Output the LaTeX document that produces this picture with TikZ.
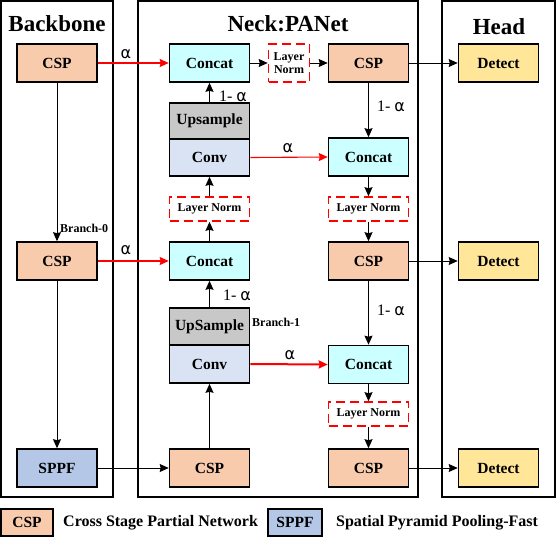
\documentclass[tikz,border=0pt]{standalone}
\usepackage{fontspec}
\setmainfont{Liberation Serif}
\newfontfamily\alphafont{DejaVu Sans}
\usepackage{xcolor}
\usetikzlibrary{arrows.meta, positioning, calc}

\definecolor{cspfill}{HTML}{F8CBAD}
\definecolor{concatfill}{HTML}{CCFFFF}
\definecolor{upfill}{HTML}{C8C8C8}
\definecolor{convfill}{HTML}{DAE3F3}
\definecolor{sppffill}{HTML}{B4C7E7}
\definecolor{detfill}{HTML}{FFE699}

\newcommand{\alp}{{\alphafont α}}

\begin{document}
\begin{tikzpicture}[
    x=1pt, y=-1pt,
    % Node styles
    box/.style={rectangle, draw=black, line width=1.6pt, minimum width=80pt, minimum height=38pt, inner sep=0pt, text centered, font=\fontsize{15.5}{15.5}\selectfont\bfseries},
    halfbox/.style={box, minimum height=37pt},
    normbox/.style={rectangle, draw=red, line width=1.6pt, dash pattern=on 9pt off 5pt, fill=white, minimum width=80pt, minimum height=24pt, inner sep=0pt, text centered, align=center, font=\fontsize{12}{12}\selectfont\bfseries},
    panel/.style={rectangle, draw=black, line width=1.6pt},
    titletext/.style={font=\fontsize{23}{23}\selectfont\bfseries},
    smalltext/.style={font=\fontsize{12}{12}\selectfont\bfseries, anchor=west, inner sep=0pt},
    weighttext/.style={font=\fontsize{16}{16}\selectfont, inner sep=0pt},
    legendtext/.style={font=\fontsize{16}{16}\selectfont\bfseries, anchor=west, inner sep=0pt},
    arrow/.style={-{Stealth[length=9pt, width=8pt, inset=1pt]}, line width=1pt},
    redarrow/.style={arrow, draw=red, line width=1.5pt},
    thinred/.style={arrow, draw=red, line width=1.1pt},
    thickred/.style={arrow, draw=red, line width=2pt}
]
\useasboundingbox (0,0) rectangle (556,536);

% Panels
\draw[panel] (1,1) rectangle (113,497);
\draw[panel] (138,1) rectangle (418,497);
\draw[panel] (442,1) rectangle (555,497);

\node[titletext] (ttlbb) at (57,24) {Backbone};
\node[titletext] (ttlneck) at (288,24) {Neck:PANet};
\node[titletext] (ttlhead) at (499,27) {Head};

% BACKBONE
\node[box, fill=cspfill] (bbcsp1) at (57,63) {CSP};
\node[box, fill=cspfill] (bbcsp2) at (57,261) {CSP};
\node[box, fill=sppffill] (sppf) at (57,468) {SPPF};

% NECK: top-down path
\node[box, fill=concatfill] (concat1) at (209.5,63) {Concat};
\node[normbox, minimum width=41pt, minimum height=38pt] (ln1) at (289,63) {Layer\\[1pt]Norm};
\node[box, fill=cspfill] (ncsp1) at (368.5,63) {CSP};
\node[box, fill=upfill, minimum height=36pt] (upsample1) at (209.5,121) {Upsample};
\node[halfbox, fill=convfill] (conv1) at (209.5,157.5) {Conv};
\node[normbox] (lnl) at (209.5,209) {Layer Norm};
\node[box, fill=concatfill] (concat3) at (209.5,261) {Concat};
\node[halfbox, fill=upfill] (upsample2) at (209.5,326.5) {UpSample};
\node[box, fill=convfill] (conv2) at (209.5,364) {Conv};
\node[box, fill=cspfill] (ncsp3) at (209.5,468) {CSP};

% NECK: bottom-up path
\node[box, fill=concatfill] (concat2) at (368.5,157) {Concat};
\node[normbox] (lnr) at (368.5,209) {Layer Norm};
\node[box, fill=cspfill] (ncsp2) at (368.5,261) {CSP};
\node[box, fill=concatfill] (concat4) at (368.5,364.5) {Concat};
\node[normbox] (lnb) at (368.5,414) {Layer Norm};
\node[box, fill=cspfill] (ncsp4) at (368.5,468) {CSP};

% HEAD
\node[box, fill=detfill] (det1) at (498.5,63) {Detect};
\node[box, fill=detfill] (det2) at (498.5,261) {Detect};
\node[box, fill=detfill] (det3) at (498.5,468) {Detect};

% Backbone arrows
\draw[arrow] (bbcsp1.south) -- (bbcsp2.north);
\draw[arrow] (bbcsp2.south) -- (sppf.north);
\node[smalltext] (br0) at (60,228) {Branch-0};

% Weighted inputs
\draw[redarrow] (bbcsp1.east) -- (concat1.west);
\node[weighttext] (w1) at (126,54) {\alp};
\draw[redarrow] (bbcsp2.east) -- (concat3.west);
\node[weighttext] (w2) at (126,250) {\alp};
\draw[thinred] (conv1.east) -- (concat2.west);
\node[weighttext] (w3) at (288,148) {\alp};
\draw[thickred] (conv2.east) -- (concat4.west);
\node[weighttext] (w4) at (290,355) {\alp};

% Left column
\draw[arrow] (sppf.east) -- (ncsp3.west);
\draw[arrow] (ncsp3.north) -- (conv2.south);
\draw[arrow] (upsample2.north) -- (concat3.south);
\node[weighttext] (w5) at (237,295) {1- \alp};
\node[smalltext] (br1) at (252,322) {Branch-1};
\draw[arrow] (concat3.north) -- (lnl.south);
\draw[arrow] (lnl.north) -- (conv1.south);
\draw[arrow] (upsample1.north) -- (concat1.south);
\node[weighttext] (w6) at (233,96) {1- \alp};

% Top row
\draw[arrow] (concat1.east) -- (ln1.west);
\draw[arrow] (ln1.east) -- (ncsp1.west);

% Right column
\draw[arrow] (ncsp1.south) -- (concat2.north);
\node[weighttext] (w7) at (391,106) {1- \alp};
\draw[arrow] (concat2.south) -- (lnr.north);
\draw[arrow] (lnr.south) -- (ncsp2.north);
\draw[arrow] (ncsp2.south) -- (concat4.north);
\node[weighttext] (w8) at (391,310) {1- \alp};
\draw[arrow] (concat4.south) -- (lnb.north);
\draw[arrow] (lnb.south) -- (ncsp4.north);

% To head
\draw[arrow] (ncsp1.east) -- (det1.west);
\draw[arrow] (ncsp2.east) -- (det2.west);
\draw[arrow] (ncsp4.east) -- (det3.west);

% Legend
\node[box, fill=cspfill, minimum width=52pt, minimum height=27pt] (lgcsp) at (27,522.5) {CSP};
\node[legendtext] (lgcsptxt) at (63,522.5) {Cross Stage Partial Network};
\node[box, fill=sppffill, minimum width=54pt, minimum height=27pt] (lgsppf) at (295,522.5) {SPPF};
\node[legendtext] (lgsppftxt) at (336,522.5) {Spatial Pyramid Pooling-Fast};

\end{tikzpicture}
\end{document}
